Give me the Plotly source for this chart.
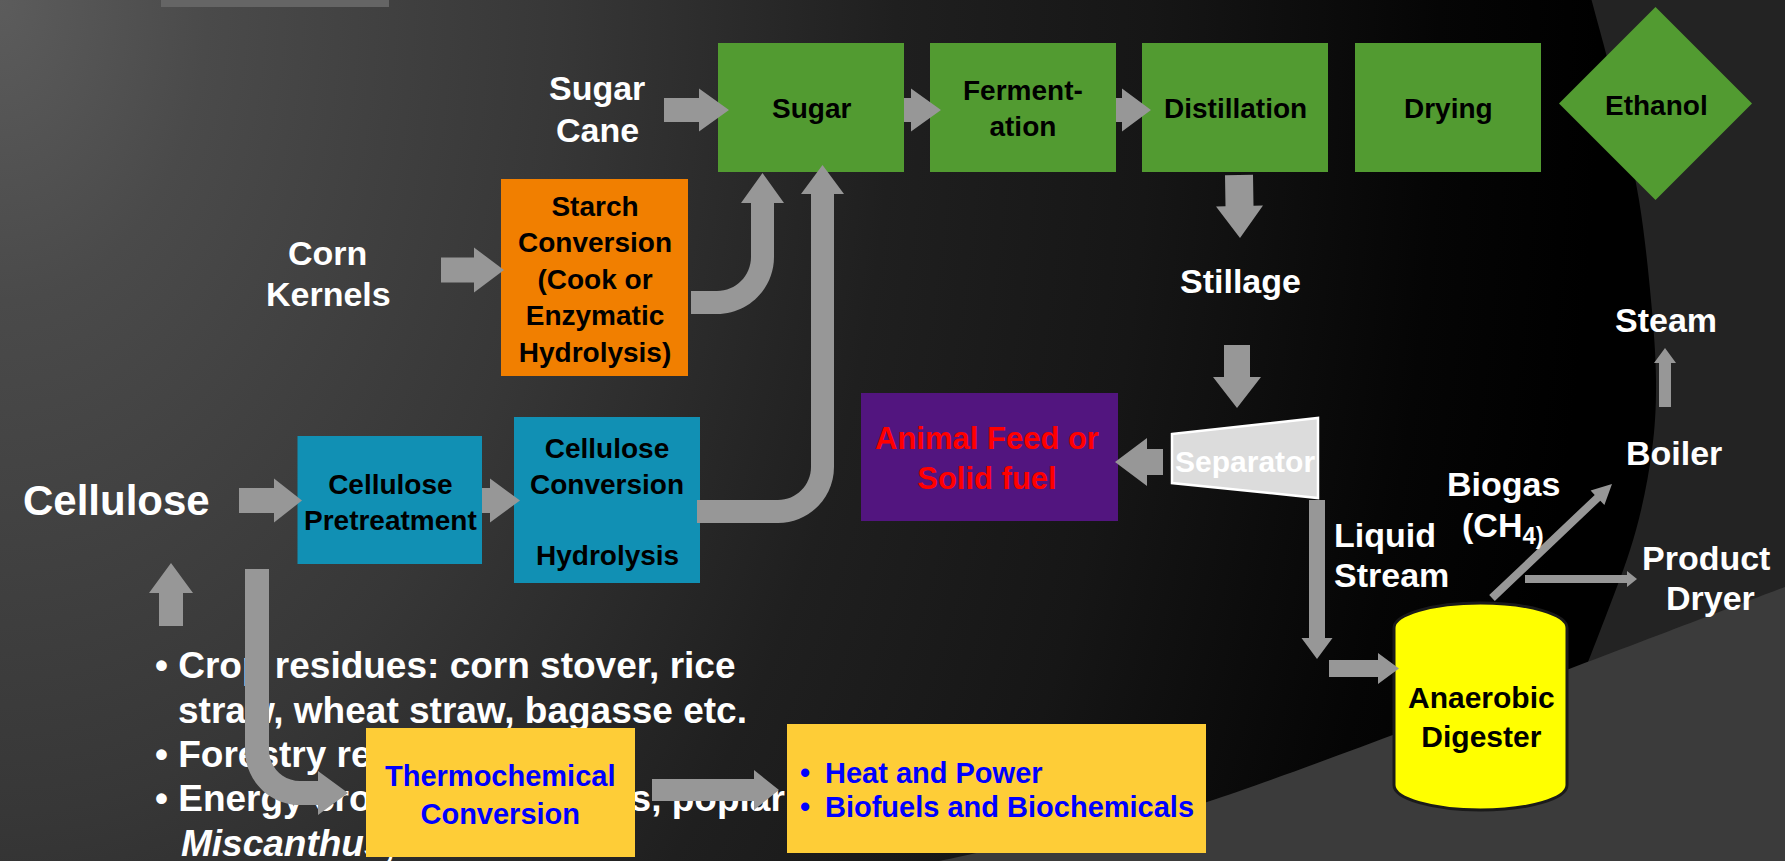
import math
import plotly.graph_objects as go

W, H = 1785, 861
FONT = "Liberation Sans, Arial, sans-serif"

# ---------------- text content ----------------
sugar_chain = ["Sugar", "Ferment-<br>ation", "Distillation", "Drying"]
product_label = "Ethanol"
feed_sugar = ["Sugar", "Cane"]
feed_corn = ["Corn", "Kernels"]
feed_cellulose = "Cellulose"
starch_step = "Starch<br>Conversion<br>(Cook or<br>Enzymatic<br>Hydrolysis)"
pretreat_step = "Cellulose<br>Pretreatment"
cell_conv_step = ["Cellulose<br>Conversion", "Hydrolysis"]
thermo_step = "Thermochemical<br>Conversion"
thermo_products = ["Heat and Power", "Biofuels and Biochemicals"]
residue_lines = [
    "• Crop residues: corn stover, rice",
    "straw, wheat straw, bagasse etc.",
    "• Forestry residues",
    "• Energy crops: switchgrass, poplar",
    "<i>Miscanthus</i>, willow etc.",
]
stillage_label = "Stillage"
separator_label = "Separator"
solids_label = "Animal Feed or<br>Solid fuel"
liquid_label = ["Liquid", "Stream"]
digester_label = "Anaerobic<br>Digester"
biogas_label = ["Biogas", "(CH<sub>4)</sub>"]
boiler_label = "Boiler"
steam_label = "Steam"
dryer_label = ["Product", "Dryer"]

# ---------------- styles ----------------
GREEN = "#529b31"
ORANGE = "#f17f00"
TEAL = "#1190b4"
PURPLE = "#52157f"
GOLD = "#fecd37"
YELLOW = "#ffff00"
ARROW = "#979797"
K = 0.5523

shapes = []
annotations = []


def rect(x0, x1, y0, y1, color):
    shapes.append(dict(type="rect", xref="x", yref="y", x0=x0, x1=x1, y0=y0, y1=y1,
                       fillcolor=color, line=dict(width=0), layer="above"))


def path(d, color, lw=0, lc="rgba(0,0,0,0)"):
    shapes.append(dict(type="path", xref="x", yref="y", path=d, fillcolor=color,
                       line=dict(width=lw, color=lc), layer="above"))


def poly(pts):
    return "M " + " L ".join(f"{x:.1f},{y:.1f}" for x, y in pts) + " Z"


def smooth(pts):
    d = f"M {pts[0][0]},{pts[0][1]}"
    for i in range(len(pts) - 1):
        p0 = pts[i - 1] if i > 0 else pts[i]
        p1, p2 = pts[i], pts[i + 1]
        p3 = pts[i + 2] if i + 2 < len(pts) else p2
        c1 = (p1[0] + (p2[0] - p0[0]) / 6, p1[1] + (p2[1] - p0[1]) / 6)
        c2 = (p2[0] - (p3[0] - p1[0]) / 6, p2[1] - (p3[1] - p1[1]) / 6)
        d += f" C {c1[0]:.1f},{c1[1]:.1f} {c2[0]:.1f},{c2[1]:.1f} {p2[0]:.1f},{p2[1]:.1f}"
    return d


def arrow(x0, y0, x1, y1, shaft, head, hlen, color=ARROW):
    dx, dy = x1 - x0, y1 - y0
    L = math.hypot(dx, dy)
    ux, uy = dx / L, dy / L
    px, py = -uy, ux
    bx, by = x1 - ux * hlen, y1 - uy * hlen
    s, h = shaft / 2, head / 2
    pts = [(x0 + px * s, y0 + py * s), (bx + px * s, by + py * s), (bx + px * h, by + py * h),
           (x1, y1), (bx - px * h, by - py * h), (bx - px * s, by - py * s), (x0 - px * s, y0 - py * s)]
    path(poly(pts), color)


def label(x, y, s, size, color="black", anchor="center"):
    annotations.append(dict(x=x, y=y, xref="x", yref="y", text=s, showarrow=False,
                            font=dict(family=FONT, size=size, color=color, weight="bold"),
                            xanchor=anchor, yanchor="middle",
                            align="left" if anchor == "left" else "center"))


# ---------------- background ----------------
fig = go.Figure()
fig.add_trace(go.Scatter(
    x=[-1600, 1600, 1600, -1600, -1600], y=[-2320, -2320, 2320, 2320, -2320],
    mode="none", fill="toself", hoverinfo="skip",
    fillgradient=dict(type="radial", colorscale=[
        [0.0, "#5c5c5c"], [0.13, "#4a4a4a"], [0.35, "#373737"], [0.56, "#1f1f1f"],
        [0.72, "#161616"], [0.9, "#050505"], [1.0, "#000000"]]),
))

# dark gray area right of the eclipse arc
arc_right = [(1591, -2), (1618, 100), (1639, 200), (1651, 300), (1656, 380), (1652, 450),
             (1636, 530), (1607, 613), (1559, 730), (1515, 800), (1471, 863)]
path(smooth(arc_right) + " L 1790,863 L 1790,-2 Z", "#232323")
# lighter sweep at bottom right
arc_bottom = [(930, 863), (1100, 826), (1207, 802), (1500, 695), (1790, 585)]
path(smooth(arc_bottom) + " L 1790,863 Z", "#3b3b3b")
# title placeholder remnant
rect(161, 389, -2, 7, "#656565")

# bullet text (drawn under boxes / arrows)
fig.add_trace(go.Scatter(
    x=[155, 178, 155, 155, 181], y=[669, 714, 758, 802, 847],
    mode="text", text=residue_lines, textposition="middle right",
    textfont=dict(family=FONT, size=37, color="white", weight="bold"),
    hoverinfo="skip",
))

# ---------------- boxes ----------------
green_boxes = [(718, 904), (930, 1116), (1142, 1328), (1355, 1541)]
for (x0, x1), s in zip(green_boxes, sugar_chain):
    rect(x0, x1, 43, 172, GREEN)
    label((x0 + x1) / 2, 108, s, 28)

path(poly([(1559, 103.5), (1655.5, 7), (1752, 103.5), (1655.5, 200)]), GREEN)
label(1656, 105, product_label, 28)

rect(501, 688, 179, 376, ORANGE)
label(594.5, 279, starch_step, 28)

rect(297.5, 482, 436, 564, TEAL)
label(390, 502, pretreat_step, 28)
rect(514, 700, 417, 583, TEAL)
label(607, 466, cell_conv_step[0], 28)
label(607, 555, cell_conv_step[1], 28)

rect(861, 1118, 393, 521, PURPLE)
label(987, 458.5, solids_label, 31, color="#ff0000")

rect(366, 635, 728, 857, GOLD)
label(500, 794.5, thermo_step, 29, color="#0000ff")
rect(787, 1206, 724, 853, GOLD)
label(805, 773, "•", 29, color="#0000ff")
label(805, 807, "•", 29, color="#0000ff")
label(823, 773, thermo_products[0], 29, color="#0000ff", anchor="left")
label(823, 807, thermo_products[1], 29, color="#0000ff", anchor="left")

# separator (trapezoid)
path(poly([(1172, 434), (1318, 418), (1318, 498), (1172, 483)]), "#dcdcdc", lw=2.5, lc="white")
label(1245, 461, separator_label, 30, color="white")

# anaerobic digester (cylinder)
cx, rx, yt, yb, ry = 1480.5, 86.5, 628, 785, 25
cyl = (f"M {cx-rx},{yt} C {cx-rx},{yt-ry*K} {cx-rx*K},{yt-ry} {cx},{yt-ry} "
       f"C {cx+rx*K},{yt-ry} {cx+rx},{yt-ry*K} {cx+rx},{yt} L {cx+rx},{yb} "
       f"C {cx+rx},{yb+ry*K} {cx+rx*K},{yb+ry} {cx},{yb+ry} "
       f"C {cx-rx*K},{yb+ry} {cx-rx},{yb+ry*K} {cx-rx},{yb} Z")
path(cyl, YELLOW, lw=3, lc="#1a1a1a")
label(1481, 717, digester_label, 30)

# ---------------- arrows ----------------
arrow(664, 110, 729, 110, 24, 43, 30)
arrow(904, 110, 941, 110, 24, 43, 30)
arrow(1116, 110, 1151, 110, 24, 43, 29)
arrow(441, 270, 504, 270, 25, 45, 30)
arrow(239, 500.5, 302, 500.5, 25, 44, 28)
arrow(482, 500.5, 520, 500.5, 25, 44, 30)
arrow(171, 626, 171, 563, 24, 44, 30)
arrow(1239, 175, 1240, 238, 28, 47, 32)
arrow(1237, 345, 1237, 408, 26, 48, 31)
arrow(1163, 462, 1115, 462, 26, 48, 32)
arrow(1317, 500, 1317, 659, 16, 31, 21)
arrow(1329, 668.5, 1399, 668.5, 17, 31, 21)
arrow(1492, 598, 1612, 484, 8, 20, 20)
arrow(1525, 579, 1637, 579, 8, 16, 10)
arrow(1665, 407, 1665, 348, 12, 22, 15)
arrow(652, 790, 779, 790, 22, 40, 25)

# bent arrow: starch conversion -> sugar
cxa, cya, ri, ro = 717, 257, 34, 57
d = (f"M 691,{cya+ri} L {cxa},{cya+ri} C {cxa+ri*K},{cya+ri} {cxa+ri},{cya+ri*K} {cxa+ri},{cya} "
     f"L {cxa+ri},203 L 741,203 L 762.5,173 L 784,203 L {cxa+ro},203 L {cxa+ro},{cya} "
     f"C {cxa+ro},{cya+ro*K} {cxa+ro*K},{cya+ro} {cxa},{cya+ro} L 691,{cya+ro} Z")
path(d, ARROW)
# bent arrow: cellulose conversion -> sugar
cxa, cya, ri, ro = 778, 467, 33, 56
d = (f"M 697,{cya+ri} L {cxa},{cya+ri} C {cxa+ri*K},{cya+ri} {cxa+ri},{cya+ri*K} {cxa+ri},{cya} "
     f"L {cxa+ri},194 L 801,194 L 822.5,165 L 844,194 L {cxa+ro},194 L {cxa+ro},{cya} "
     f"C {cxa+ro},{cya+ro*K} {cxa+ro*K},{cya+ro} {cxa},{cya+ro} L 697,{cya+ro} Z")
path(d, ARROW)
# bent arrow: cellulose -> thermochemical
cxa, cya, ri, ro = 300, 750, 31, 55
d = (f"M {cxa-ro},569 L {cxa-ri},569 L {cxa-ri},{cya} "
     f"C {cxa-ri},{cya+ri*K} {cxa-ri*K},{cya+ri} {cxa},{cya+ri} L 318,{cya+ri} L 318,771 "
     f"L 348,793 L 318,815 L 318,{cya+ro} L {cxa},{cya+ro} "
     f"C {cxa-ro*K},{cya+ro} {cxa-ro},{cya+ro*K} {cxa-ro},{cya} Z")
path(d, ARROW)

# ---------------- white labels ----------------
label(597, 88, feed_sugar[0], 34, "white")
label(597, 130, feed_sugar[1], 34, "white")
label(327, 253, feed_corn[0], 34, "white")
label(328, 294, feed_corn[1], 34, "white")
label(116, 500, feed_cellulose, 42, "white")
label(1240, 281, stillage_label, 34, "white")
label(1666, 320, steam_label, 34, "white")
label(1674, 453, boiler_label, 34, "white")
label(1503, 484, biogas_label[0], 34, "white")
label(1503, 527, biogas_label[1], 34, "white")
label(1332, 535, liquid_label[0], 34, "white", anchor="left")
label(1332, 575, liquid_label[1], 34, "white", anchor="left")
label(1706, 558, dryer_label[0], 34, "white")
label(1710, 598, dryer_label[1], 34, "white")

fig.update_layout(
    width=W, height=H, margin=dict(l=0, r=0, t=0, b=0, pad=0),
    paper_bgcolor="#000000", plot_bgcolor="#000000",
    xaxis=dict(range=[0, W], visible=False, fixedrange=True),
    yaxis=dict(range=[H, 0], visible=False, fixedrange=True),
    showlegend=False, hovermode=False,
    shapes=shapes, annotations=annotations,
)

fig.write_html("out.html", config={"displayModeBar": False},
               post_script="document.body.style.margin='0';document.body.style.overflow='hidden';")
